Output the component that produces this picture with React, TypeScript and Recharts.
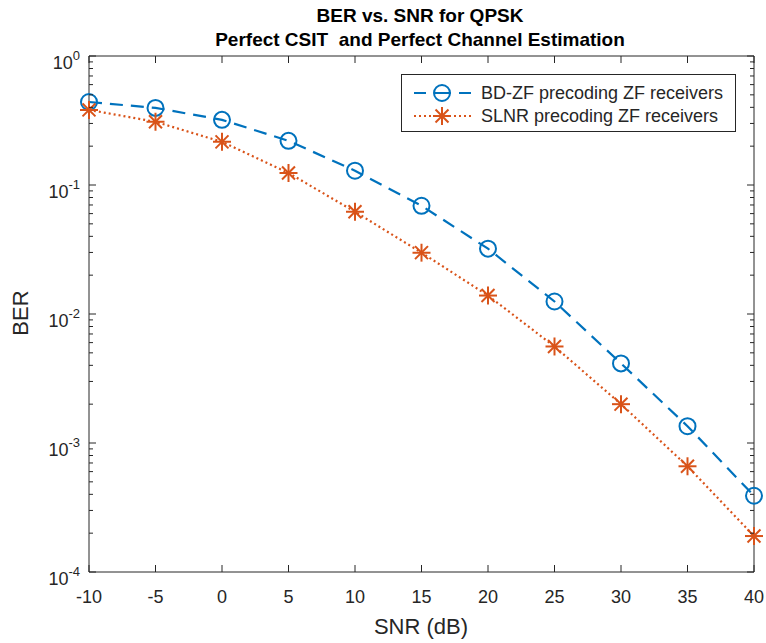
import { LineChart, Line, XAxis, YAxis } from "recharts";

const snr = [-10, -5, 0, 5, 10, 15, 20, 25, 30, 35, 40];
const berBdzf = [0.44, 0.396, 0.32, 0.22, 0.129, 0.069, 0.0321, 0.0125, 0.00414, 0.00135, 0.00039];
const berSlnr = [0.382, 0.309, 0.216, 0.124, 0.062, 0.0299, 0.0139, 0.0056, 0.002, 0.00066, 0.00019];
const yMajorTicks = [1e-4, 1e-3, 1e-2, 1e-1, 1];
const yMinorSteps = [2, 3, 4, 5, 6, 7, 8, 9];

const BLUE = "#0072BD";
const ORANGE = "#D95319";
const AXIS = "#262626";
const FONT = "'Liberation Sans', Arial, Helvetica, sans-serif";

// plot box (px)
const LEFT = 89;
const RIGHT = 754;
const TOP = 56;
const BOTTOM = 572;

const data = snr.map((s, i) => ({ snr: s, bdzf: berBdzf[i], slnr: berSlnr[i] }));

const yTicks = [
  ...yMajorTicks,
  ...yMajorTicks.slice(0, -1).flatMap((d) => yMinorSteps.map((m) => d * m)),
];
const isMajor = (v: number) => yMajorTicks.some((t) => Math.abs(t - v) < t * 1e-6);

const BottomTick = (props: any) => {
  const { x, payload } = props;
  return (
    <g>
      <line x1={x} x2={x} y1={BOTTOM} y2={BOTTOM - 7} stroke={AXIS} />
      <text x={x} y={BOTTOM + 31} textAnchor="middle" fontSize={18} fill={AXIS} fontFamily={FONT}>
        {payload.value}
      </text>
    </g>
  );
};

const TopTick = (props: any) => {
  const { x } = props;
  return <line x1={x} x2={x} y1={TOP} y2={TOP + 7} stroke={AXIS} />;
};

const LeftTick = (props: any) => {
  const { y, payload } = props;
  const major = isMajor(payload.value);
  const exp = Math.round(Math.log10(payload.value));
  return (
    <g>
      <line x1={LEFT} x2={LEFT + (major ? 7 : 4)} y1={y} y2={y} stroke={AXIS} />
      {major && (
        <text x={LEFT - 9} y={y + 13} textAnchor="end" fontSize={18} fill={AXIS} fontFamily={FONT}>
          10
          <tspan dy={-9} fontSize={13}>
            {exp}
          </tspan>
        </text>
      )}
    </g>
  );
};

const RightTick = (props: any) => {
  const { y, payload } = props;
  const major = isMajor(payload.value);
  return <line x1={RIGHT} x2={RIGHT - (major ? 7 : 4)} y1={y} y2={y} stroke={AXIS} />;
};

const CircleDot = (props: any) => {
  const { cx, cy, index } = props;
  return <circle key={index} cx={cx} cy={cy} r={8} fill="none" stroke={BLUE} strokeWidth={2} />;
};

const StarDot = (props: any) => {
  const { cx, cy, index } = props;
  const r = 9;
  const d = r * 0.72;
  return (
    <g key={index} stroke={ORANGE} strokeWidth={2}>
      <line x1={cx - r} x2={cx + r} y1={cy} y2={cy} />
      <line x1={cx} x2={cx} y1={cy - r} y2={cy + r} />
      <line x1={cx - d} x2={cx + d} y1={cy - d} y2={cy + d} />
      <line x1={cx - d} x2={cx + d} y1={cy + d} y2={cy - d} />
    </g>
  );
};

const LegendBox = () => (
  <div
    style={{
      position: "absolute",
      left: 401,
      top: 74,
      width: 333,
      height: 56,
      border: `1px solid ${AXIS}`,
      background: "#fff",
    }}
  >
    <svg width={333} height={56} style={{ position: "absolute", left: 0, top: 0 }}>
      <line x1={12} x2={69} y1={18} y2={18} stroke={BLUE} strokeWidth={2.2} strokeDasharray="12 8 17 8 12" />
      <CircleDot cx={40} cy={18} index={0} />
      <line x1={12} x2={69} y1={41} y2={41} stroke={ORANGE} strokeWidth={2.2} strokeDasharray="2 3" />
      <StarDot cx={40} cy={41} index={1} />
      <text x={79} y={24} fontSize={18} fill={AXIS} fontFamily={FONT}>
        BD-ZF precoding ZF receivers
      </text>
      <text x={79} y={47} fontSize={18} fill={AXIS} fontFamily={FONT}>
        SLNR precoding ZF receivers
      </text>
    </svg>
  </div>
);

export default function App() {
  return (
    <div style={{ position: "absolute", left: 0, top: 0, width: 766, height: 643, background: "#fff" }}>
      <LineChart width={766} height={643} data={data} margin={{ top: 0, right: 0, bottom: 0, left: 0 }}>
        <XAxis
          dataKey="snr"
          type="number"
          domain={[-10, 40]}
          ticks={snr}
          height={643 - BOTTOM}
          stroke={AXIS}
          tickLine={false}
          tick={<BottomTick />}
          interval={0}
        />
        <XAxis
          xAxisId="top"
          orientation="top"
          dataKey="snr"
          type="number"
          domain={[-10, 40]}
          ticks={snr}
          height={TOP}
          stroke={AXIS}
          tickLine={false}
          tick={<TopTick />}
          interval={0}
        />
        <YAxis
          type="number"
          scale="log"
          domain={[1e-4, 1]}
          allowDataOverflow
          ticks={yTicks}
          width={LEFT}
          stroke={AXIS}
          tickLine={false}
          tick={<LeftTick />}
          interval={0}
        />
        <YAxis
          yAxisId="right"
          orientation="right"
          type="number"
          scale="log"
          domain={[1e-4, 1]}
          allowDataOverflow
          ticks={yTicks}
          width={766 - RIGHT}
          stroke={AXIS}
          tickLine={false}
          tick={<RightTick />}
          interval={0}
        />
        <Line
          dataKey="bdzf"
          type="linear"
          stroke={BLUE}
          strokeWidth={2.2}
          strokeDasharray="13 8"
          dot={<CircleDot />}
          isAnimationActive={false}
        />
        <Line
          dataKey="slnr"
          type="linear"
          stroke={ORANGE}
          strokeWidth={2.2}
          strokeDasharray="2 3"
          dot={<StarDot />}
          isAnimationActive={false}
        />
      </LineChart>
      <div
        style={{
          position: "absolute",
          left: 0,
          width: 840,
          top: 4,
          textAlign: "center",
          fontFamily: FONT,
          fontWeight: "bold",
          fontSize: 19,
          lineHeight: "24px",
          color: "#000",
        }}
      >
        <div>BER vs. SNR for QPSK</div>
        <div style={{ whiteSpace: "pre" }}>Perfect CSIT  and Perfect Channel Estimation</div>
      </div>
      <div
        style={{
          position: "absolute",
          left: 0,
          width: 842,
          top: 614,
          textAlign: "center",
          fontFamily: FONT,
          fontSize: 22,
          color: AXIS,
        }}
      >
        SNR (dB)
      </div>
      <div
        style={{
          position: "absolute",
          left: -19,
          top: 300,
          width: 80,
          textAlign: "center",
          transform: "rotate(-90deg)",
          fontFamily: FONT,
          fontSize: 22,
          lineHeight: "26px",
          color: AXIS,
        }}
      >
        BER
      </div>
      <LegendBox />
    </div>
  );
}
